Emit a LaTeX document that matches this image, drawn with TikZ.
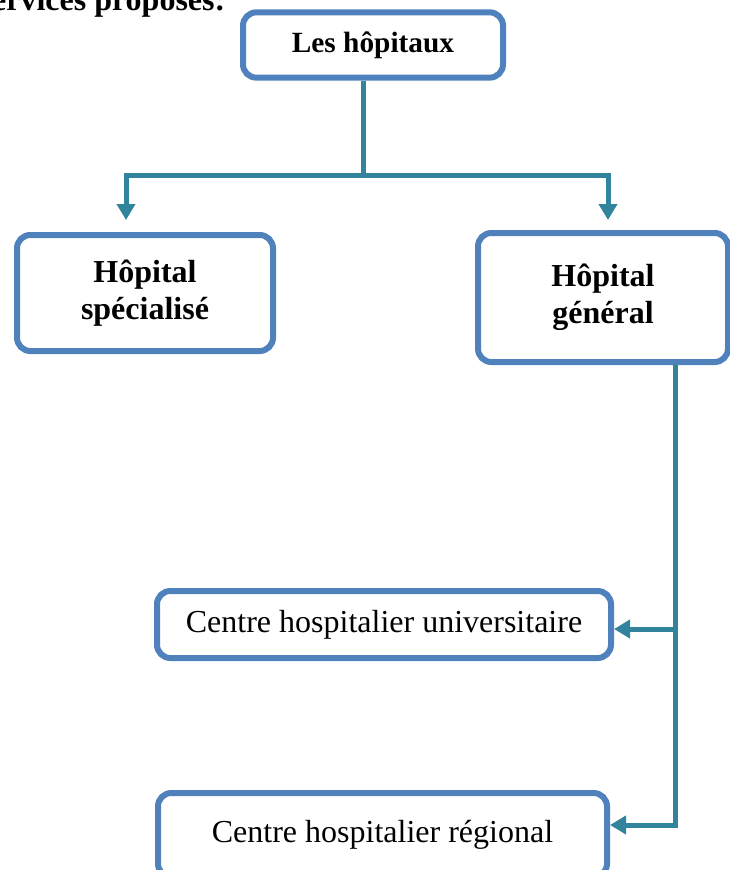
\documentclass[tikz,border=0pt]{standalone}
\usepackage{fontspec}
\setmainfont{Liberation Serif}
\usetikzlibrary{arrows.meta}
\definecolor{boxblue}{RGB}{79,129,189}
\definecolor{linkteal}{RGB}{49,132,155}
\begin{document}
\begin{tikzpicture}[x=0.75pt, y=-0.75pt, font=\fontsize{24}{28}\selectfont, unit/.style={draw=boxblue, line width=4.5pt, rounded corners=10pt, fill=white, align=center, inner sep=0pt}, strong/.style={font=\fontsize{24}{28}\selectfont\bfseries}, link/.style={draw=linkteal, line width=3.75pt}, arr/.style={link, -{Triangle[length=12pt, width=13.5pt]}}]
\useasboundingbox (0,0) rectangle (729,870);
\node[strong, anchor=base east] (heading) at (230,11) {ervices proposés:};
\node[unit, strong, font=\fontsize{22}{26}\selectfont\bfseries, minimum width=195pt, minimum height=49pt] (hospitals) at (373,45) {Les hôpitaux};
\node[unit, strong, minimum width=192pt, minimum height=87pt] (special) at (145,293) {Hôpital\\spécialisé};
\node[unit, strong, minimum width=187.5pt, minimum height=96.75pt] (general) at (603,297.5) {Hôpital\\général};
\node[unit, minimum width=340.5pt, minimum height=50.25pt] (chu) at (384,624.5) {Centre hospitalier universitaire};
\node[unit, minimum width=336.75pt, minimum height=63pt] (chr) at (382.5,835) {Centre hospitalier régional};
\coordinate (split) at (363,175);
\coordinate (ltip) at (126,220);
\coordinate (rtip) at (608,220);
\coordinate (fork) at (675,629);
\coordinate (bend) at (675,825);
\draw[link] (hospitals.south -| split) -- (split);
\draw[arr] (split) -| (ltip);
\draw[arr] (split) -| (rtip);
\draw[arr] (general.south -| bend) |- (chr.east |- bend);
\draw[arr] (fork) -- (chu.east |- fork);
\end{tikzpicture}
\end{document}
